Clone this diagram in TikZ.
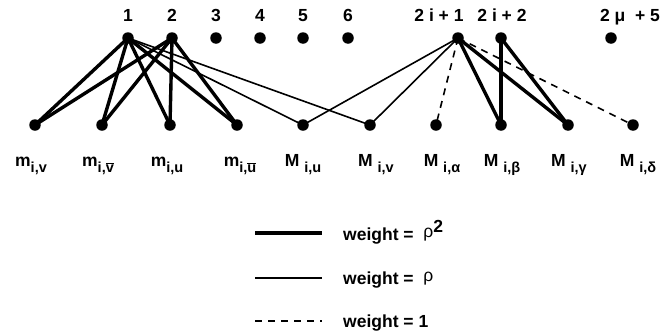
\documentclass[tikz,border=0pt]{standalone}
\usepackage{fontspec}
\setmainfont{Liberation Sans}
\newcommand{\subl}[1]{\raisebox{-0.36em}{\fontsize{14.5}{16}\selectfont #1}}
\newcommand{\ovl}[1]{\ensuremath{\overline{\mbox{#1}}}}
\begin{document}
\begin{tikzpicture}[x=1pt,y=-1pt,
  dot/.style={circle,fill=black,inner sep=0pt,minimum size=11.5pt},
  lab/.style={font=\fontsize{17.5}{20}\selectfont\bfseries,inner sep=0pt,anchor=base},
  thickw/.style={line width=3.4pt},
  thinw/.style={line width=1.6pt},
  dashw/.style={line width=1.6pt,dash pattern=on 7pt off 6pt}]
\useasboundingbox (0,0) rectangle (670,335);
% top row
\foreach \n/\x in {t1/128,t2/172,t3/216,t4/260,t5/303,t6/348,tA/458,tB/501,tC/611}
  \node[dot] (\n) at (\x,38) {};
\node[lab] (l1) at (128,21) {1};
\node[lab] (l2) at (172,21) {2};
\node[lab] (l3) at (216,21) {3};
\node[lab] (l4) at (260,21) {4};
\node[lab] (l5) at (303,21) {5};
\node[lab] (l6) at (348,21) {6};
\node[lab] (lA) at (439,21) {2 i + 1};
\node[lab] (lB) at (502,21) {2 i + 2};
\node[lab] (lC) at (630,21) {2 μ\ \ + 5};
% bottom row
\foreach \n/\x in {b1/35,b2/102,b3/170,b4/237,b5/303,b6/370,b7/436,b8/501,b9/568,b10/633}
  \node[dot] (\n) at (\x,125) {};
\node[lab] (c1) at (31,166) {m\subl{i,v}};
\node[lab] (c2) at (98,166) {m\subl{i,\ovl{v}}};
\node[lab] (c3) at (167,166) {m\subl{i,u}};
\node[lab] (c4) at (240,166) {m\subl{i,\ovl{u}}};
\node[lab] (c5) at (303,166) {M \subl{i,u}};
\node[lab] (c6) at (376,166) {M \subl{i,v}};
\node[lab] (c7) at (442,166) {M \subl{i,α}};
\node[lab] (c8) at (502,166) {M \subl{i,β}};
\node[lab] (c9) at (569,166) {M \subl{i,γ}};
\node[lab] (c10) at (638,166) {M \subl{i,δ}};
% edges
\foreach \b in {b1,b2,b3,b4} {
  \draw[thickw] (t1.center) -- (\b.center);
  \draw[thickw] (t2.center) -- (\b.center);
}
\draw[thinw] (t1.center) -- (b5.center);
\draw[thinw] (t1.center) -- (b6.center);
\draw[thinw] (tA.center) -- (b5.center);
\draw[thinw] (tA.center) -- (b6.center);
\draw[dashw] (tA.center) -- (b7.center);
\draw[dashw] (tA.center) -- (b10.center);
\draw[thickw] (tA.center) -- (b8.center);
\draw[thickw] (tA.center) -- (b9.center);
\draw[thickw] (tB.center) -- (b8.center);
\draw[thickw] (tB.center) -- (b9.center);
% legend
\coordinate (g1a) at (255,233); \coordinate (g1b) at (322,233);
\coordinate (g2a) at (255,278); \coordinate (g2b) at (322,278);
\coordinate (g3a) at (255,321); \coordinate (g3b) at (322,321);
\draw[thickw] (g1a) -- (g1b);
\draw[thinw] (g2a) -- (g2b);
\draw[dashw] (g3a) -- (g3b);
\node[lab,anchor=base west] (w1) at (343,240) {weight =\ \ \raisebox{0.15em}{\mdseries ρ}\raisebox{0.45em}{2}};
\node[lab,anchor=base west] (w2) at (343,284) {weight =\ \ \raisebox{0.15em}{\mdseries ρ}};
\node[lab,anchor=base west] (w3) at (343,327) {weight = 1};
\end{tikzpicture}
\end{document}
